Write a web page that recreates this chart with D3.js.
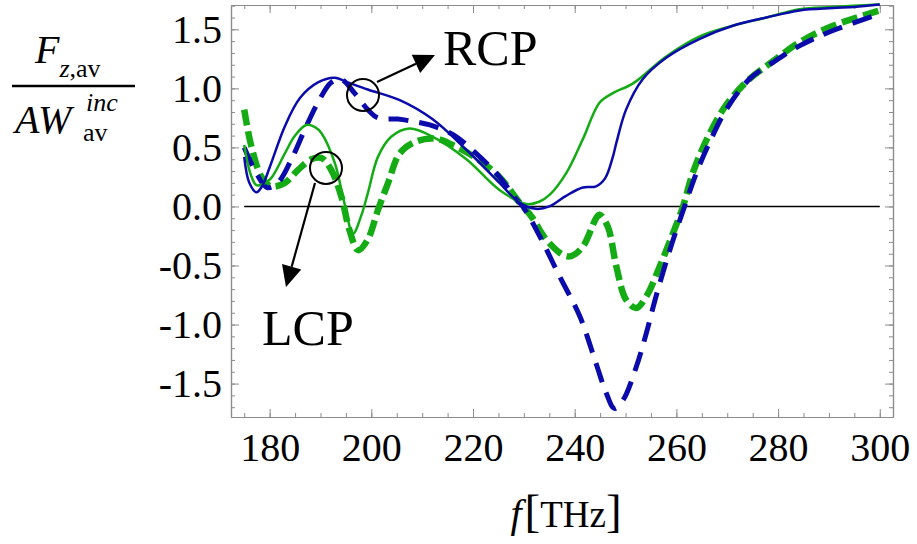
<!DOCTYPE html>
<html>
<head>
<meta charset="utf-8">
<script src="https://cdn.jsdelivr.net/npm/d3@7"></script>
<style>
  body { margin: 0; background: #fff; }
  #chart svg { display: block; }
  text { font-family: 'Liberation Serif', 'DejaVu Serif', serif; }
</style>
</head>
<body>
<div id="chart"></div>
<script>
// data: [f in THz, Fz,av / (A W_av^inc)]
const rcpSolid = [
  [175, 0.42], [176, 0.2], [177.4, 0.12], [178.5, 0.17], [180, 0.33], [183, 0.68],
  [186, 0.92], [189.5, 1.05], [192.8, 1.09], [195.4, 1.05], [199.3, 0.99], [205.6, 0.9],
  [212, 0.74], [218.7, 0.48], [225.2, 0.2], [229.2, 0.03], [232.4, -0.02], [235, 0.0],
  [238.3, 0.09], [241.6, 0.16], [244.2, 0.17], [246, 0.24], [247.5, 0.42], [248.2, 0.54],
  [250.1, 0.82], [253.4, 1.08], [258, 1.26], [264.6, 1.42], [271.1, 1.53], [277.7, 1.6],
  [284.2, 1.66], [290.8, 1.68], [295, 1.69], [300, 1.71]
];
const lcpSolid = [
  [175, 0.52], [176.2, 0.28], [177.4, 0.18], [178.8, 0.19], [180.3, 0.24], [183, 0.45],
  [185, 0.6], [187.2, 0.69], [189, 0.67], [190.2, 0.62], [192.8, 0.37], [194.7, 0.03],
  [196.4, -0.23], [198, -0.08], [199.3, 0.11], [201.3, 0.42], [203.9, 0.59], [207.5, 0.66],
  [212.1, 0.59], [218.7, 0.4], [225.2, 0.14], [230.5, 0.02], [233, 0.04], [235.1, 0.1],
  [238.3, 0.28], [241.6, 0.57], [244.9, 0.88], [247.5, 0.96], [251.4, 1.04], [258, 1.27],
  [264.6, 1.44], [271.1, 1.53], [277.7, 1.6], [284.2, 1.67], [290.8, 1.69], [300, 1.71]
];
const rcpDashed = [
  [175, 0.5], [177.4, 0.28], [179.5, 0.16], [181.6, 0.2], [184.3, 0.4], [186.9, 0.65],
  [189.5, 0.88], [192.1, 1.05], [194.1, 1.075], [196.7, 0.96], [199.3, 0.82], [201.3, 0.75],
  [205.2, 0.74], [208.2, 0.72], [211.5, 0.69], [216, 0.61], [220.6, 0.45], [225.2, 0.25],
  [228.5, 0.06], [229.8, 0.0], [233.1, -0.25], [237, -0.59], [241, -0.93], [244.2, -1.33],
  [246.2, -1.58], [247.8, -1.71], [249.5, -1.64], [252.1, -1.36], [254.1, -1.07], [256, -0.76],
  [258.7, -0.37], [261.6, 0.0], [263.9, 0.28], [266.5, 0.54], [269.8, 0.82], [274.4, 1.08],
  [279, 1.22], [284.2, 1.36], [290.8, 1.49], [300, 1.63]
];
const lcpDashed = [
  [175, 0.82], [176.4, 0.51], [178.4, 0.25], [180.3, 0.17], [183, 0.2], [185.6, 0.31],
  [188.2, 0.4], [190.2, 0.41], [192.1, 0.31], [194.1, 0.085], [195.7, -0.2], [197.4, -0.37],
  [199.3, -0.28], [201.3, -0.03], [203.3, 0.2], [205.6, 0.45], [208.8, 0.55], [212.5, 0.575],
  [216, 0.52], [220.6, 0.41], [225.2, 0.25], [229.2, 0.03], [231.5, -0.085], [234.4, -0.28],
  [237.7, -0.41], [239.3, -0.42], [241.6, -0.34], [244.2, -0.1], [244.9, -0.07], [246.5, -0.17],
  [248.2, -0.51], [250.1, -0.79], [252.1, -0.86], [254.1, -0.76], [256.7, -0.51], [259.3, -0.23],
  [261.3, 0.0], [263.2, 0.28], [266, 0.57], [269.8, 0.86], [274.4, 1.08], [279, 1.23],
  [284.2, 1.39], [290.8, 1.53], [300, 1.66]
];

const xMajorTicks = [180, 200, 220, 240, 260, 280, 300];
const xMinorTicks = d3.range(175, 301, 5);
const yMajorTicks = [-1.5, -1.0, -0.5, 0.0, 0.5, 1.0, 1.5];
const yMinorTicks = d3.range(-17, 18).map((d) => d / 10);

// 1. Dimensions
const dimensions = {
  width: 917,
  height: 544,
  margin: { top: 5, right: 24, bottom: 127, left: 231 },
};
dimensions.boundedWidth =
  dimensions.width - dimensions.margin.left - dimensions.margin.right;
dimensions.boundedHeight =
  dimensions.height - dimensions.margin.top - dimensions.margin.bottom;

// 2. Scales
const xScale = d3
  .scaleLinear()
  .domain([172.4, 302.6])
  .range([0, dimensions.boundedWidth]);

const yScale = d3
  .scaleLinear()
  .domain([-1.783, 1.706])
  .range([dimensions.boundedHeight, 0]);

// 3. Canvas
const wrapper = d3
  .select('#chart')
  .append('svg')
  .attr('width', dimensions.width)
  .attr('height', dimensions.height);

const bounds = wrapper
  .append('g')
  .attr('transform', `translate(${dimensions.margin.left},${dimensions.margin.top})`);

// 4. Frame ticks (Mathematica style, pointing inward on all four sides)
const frameColor = '#8c8c8c';
function frameAxis(gen, transform, values, size, labels) {
  const g = bounds
    .append('g')
    .attr('transform', transform)
    .call(gen.tickValues(values).tickSize(-size).tickSizeOuter(0));
  g.selectAll('line').attr('stroke', frameColor).attr('stroke-width', 1);
  g.select('.domain').attr('stroke', frameColor).attr('stroke-width', 1.2);
  if (!labels) g.selectAll('text').remove();
  return g;
}

const bh = dimensions.boundedHeight;
const bw = dimensions.boundedWidth;
frameAxis(d3.axisBottom(xScale).tickFormat(''), `translate(0,${bh})`, xMinorTicks, 4, false);
frameAxis(d3.axisTop(xScale).tickFormat(''), 'translate(0,0)', xMinorTicks, 4, false);
frameAxis(d3.axisLeft(yScale).tickFormat(''), 'translate(0,0)', yMinorTicks, 4, false);
frameAxis(d3.axisRight(yScale).tickFormat(''), `translate(${bw},0)`, yMinorTicks, 4, false);

const xAxis = frameAxis(
  d3.axisBottom(xScale).tickFormat((d) => d),
  `translate(0,${bh})`, xMajorTicks, 8, true
);
xAxis.selectAll('text')
  .attr('y', 44).attr('dy', 0)
  .attr('fill', '#000')
  .style('font-size', '40px')
  .style('font-family', "'Liberation Serif', serif");

frameAxis(d3.axisTop(xScale).tickFormat(''), 'translate(0,0)', xMajorTicks, 8, false);
const yAxis = frameAxis(
  d3.axisLeft(yScale).tickFormat((d) => d.toFixed(1)),
  'translate(0,0)', yMajorTicks, 8, true
);
yAxis.selectAll('text')
  .attr('x', -9).attr('dy', '0.33em')
  .attr('fill', '#000')
  .style('font-size', '40px')
  .style('font-family', "'Liberation Serif', serif");
frameAxis(d3.axisRight(yScale).tickFormat(''), `translate(${bw},0)`, yMajorTicks, 8, false);

// zero line
bounds
  .append('line')
  .attr('x1', xScale(175))
  .attr('x2', xScale(300))
  .attr('y1', yScale(0))
  .attr('y2', yScale(0))
  .attr('stroke', '#000')
  .attr('stroke-width', 1.6);

// 5. Curves
const lineGenerator = d3
  .line()
  .x((d) => xScale(d[0]))
  .y((d) => yScale(d[1]))
  .curve(d3.curveCatmullRom.alpha(0.5));

const blue = '#0b0bab';
const green = '#14ab14';
const series = [
  { data: lcpDashed, color: green, width: 6.5, dash: '16 6' },
  { data: rcpDashed, color: blue, width: 5, dash: '20 11' },
  { data: lcpSolid, color: green, width: 2.5, dash: null },
  { data: rcpSolid, color: blue, width: 2.5, dash: null },
];

bounds
  .selectAll('path.curve')
  .data(series)
  .enter()
  .append('path')
  .attr('class', 'curve')
  .attr('d', (d) => lineGenerator(d.data))
  .attr('fill', 'none')
  .attr('stroke', (d) => d.color)
  .attr('stroke-width', (d) => d.width)
  .attr('stroke-dasharray', (d) => d.dash)
  .attr('stroke-linejoin', 'round');

// 6. Annotations (page coordinates)
const notes = wrapper.append('g').attr('stroke', '#000').attr('fill', 'none');
notes.append('circle').attr('cx', 363).attr('cy', 95).attr('r', 16).attr('stroke-width', 2);
notes.append('circle').attr('cx', 326).attr('cy', 168).attr('r', 16).attr('stroke-width', 2);

function arrow(x1, y1, x2, y2) {
  const len = Math.hypot(x2 - x1, y2 - y1);
  const ux = (x2 - x1) / len;
  const uy = (y2 - y1) / len;
  const headLen = 21;
  const half = 10;
  const bx = x2 - ux * headLen;
  const by = y2 - uy * headLen;
  notes.append('line')
    .attr('x1', x1).attr('y1', y1).attr('x2', bx).attr('y2', by)
    .attr('stroke-width', 2.2);
  notes.append('path')
    .attr('d', `M${x2},${y2}L${bx - uy * half},${by + ux * half}L${bx + uy * half},${by - ux * half}Z`)
    .attr('fill', '#000')
    .attr('stroke', 'none');
}
arrow(377, 82, 435, 55);
arrow(315, 183, 286, 287);

wrapper.append('text')
  .attr('x', 443).attr('y', 65)
  .style('font-size', '50px')
  .text('RCP');
wrapper.append('text')
  .attr('x', 262).attr('y', 345)
  .style('font-size', '50px')
  .text('LCP');

// 7. Axis titles
const xTitle = wrapper.append('text')
  .attr('x', 566).attr('y', 527)
  .attr('text-anchor', 'middle')
  .style('font-size', '37px');
xTitle.append('tspan').style('font-style', 'italic').style('font-size', '40px').text('f');
xTitle.append('tspan').attr('dx', 3).style('font-size', '47px').text('[');
xTitle.append('tspan').text('THz');
xTitle.append('tspan').style('font-size', '47px').text(']');

const yTitle = wrapper.append('g');
const num = yTitle.append('text').attr('x', 35).attr('y', 63).style('font-size', '40px');
num.append('tspan').style('font-style', 'italic').text('F');
num.append('tspan').attr('dy', 14).style('font-size', '26px').style('font-style', 'italic').text('z');
num.append('tspan').style('font-size', '26px').text(',av');
yTitle.append('line')
  .attr('x1', 12).attr('x2', 135).attr('y1', 86).attr('y2', 86)
  .attr('stroke', '#000').attr('stroke-width', 2.4);
const den = yTitle.append('text').attr('x', 15).attr('y', 133).style('font-size', '40px');
den.append('tspan').style('font-style', 'italic').text('AW');
yTitle.append('text').attr('x', 86).attr('y', 111)
  .style('font-size', '26px').style('font-style', 'italic').text('inc');
yTitle.append('text').attr('x', 83).attr('y', 141)
  .style('font-size', '26px').text('av');
</script>
</body>
</html>
